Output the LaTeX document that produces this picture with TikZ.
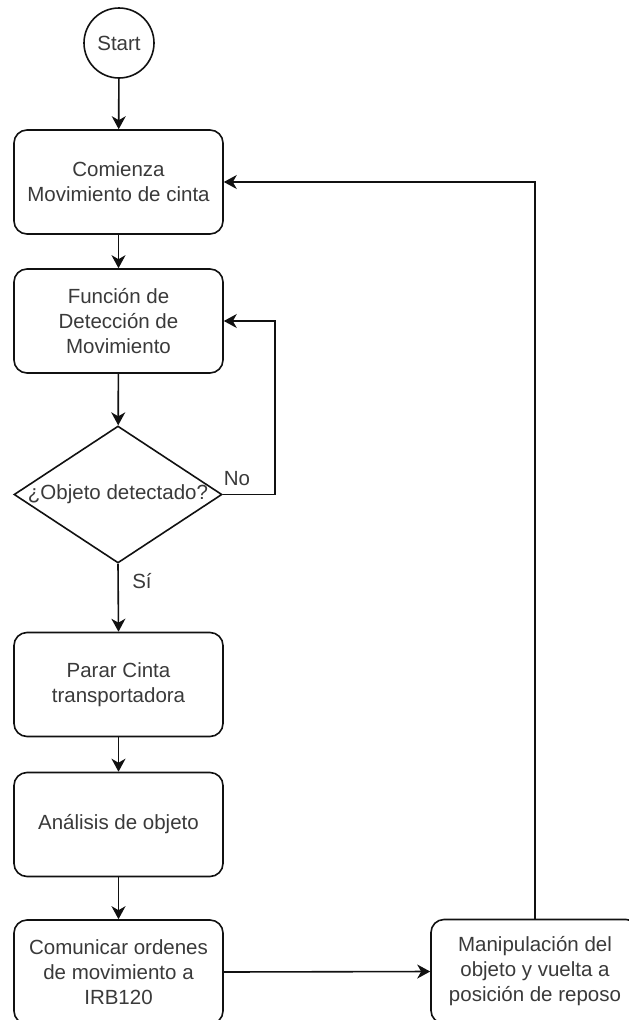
\documentclass[tikz,border=0pt]{standalone}
\usepackage{fontspec}
\setmainfont{Liberation Sans}
\usetikzlibrary{shapes.geometric,arrows.meta}
\definecolor{ink}{HTML}{111111}
\definecolor{txtgray}{HTML}{3A3A3A}
\begin{document}
\begin{tikzpicture}[x=1pt,y=-1pt,
  every node/.style={font=\fontsize{20.5}{25}\selectfont, text=txtgray},
  stepbox/.style={draw=ink, line width=1.6pt, rectangle, rounded corners=13pt,
    minimum width=209pt, minimum height=104pt, align=center, inner sep=2pt},
  startnode/.style={draw=ink, line width=1.6pt, circle, minimum size=70pt, inner sep=0pt},
  decision/.style={draw=ink, line width=1.6pt, diamond, minimum width=208pt,
    minimum height=137pt, inner sep=0pt},
  flow/.style={draw=ink, line width=1.6pt, -{Stealth[length=13pt,width=14pt,inset=4pt]}},
  lbl/.style={inner sep=0pt}
]
\path[use as bounding box, clip] (0,0) rectangle (629,1020);
\fill[white] (0,0) rectangle (629,1020);

% process steps
\node[startnode] (start) at (119,43) {Start};
\node[stepbox] (cinta) at (118.5,182) {Comienza\\Movimiento de cinta};
\node[stepbox] (detec) at (118.5,321) {Función de\\Detección de\\Movimiento};
\node[decision] (dec) at (118,494.5) {};
\node[lbl] (dectext) at (dec.center) {¿Objeto detectado?};
\node[stepbox] (parar) at (118.5,684.5) {Parar Cinta\\transportadora};
\node[stepbox] (anal) at (118.5,824.5) {Análisis de objeto};
\node[stepbox] (comun) at (118.5,972) {Comunicar ordenes\\de movimiento a\\IRB120};
\node[stepbox, minimum width=208pt] (manip) at (535,971.5) {Manipulación del\\objeto y vuelta a\\posición de reposo};

% corner points of the return paths
\coordinate (noR) at (275,494.5);
\coordinate (backR) at (535,182);

% connectors
\draw[flow] (start) -- (cinta);
\draw[flow] (cinta) -- (detec);
\draw[flow] (detec) -- (dec);
\draw[flow] (dec.east) -- (noR) |- (detec.east);
\draw[flow] (dec.south) -- (parar.north);
\draw[flow] (parar) -- (anal);
\draw[flow] (anal) -- (comun);
\draw[flow] (comun.east) -- (manip.west);
\draw[flow] (manip.north) -- (backR) -- (cinta.east);

% branch labels
\node[lbl] (nolbl) at (237,479) {No};
\node[lbl] (silbl) at (142,581) {Sí};
\end{tikzpicture}
\end{document}
